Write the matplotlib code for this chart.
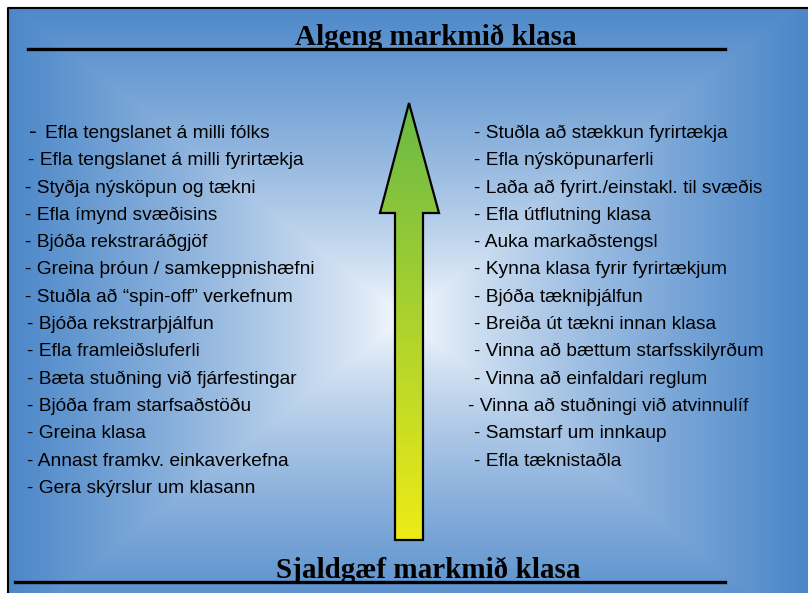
import numpy as np
import matplotlib
matplotlib.use("Agg")
import matplotlib.pyplot as plt
from matplotlib.patches import Polygon

# Texti glærunnar
title_top = "Algeng markmið klasa"
title_bottom = "Sjaldgæf markmið klasa"

left_items = [
    "Efla tengslanet á milli fólks",
    "Efla tengslanet á milli fyrirtækja",
    "Styðja nýsköpun og tækni",
    "Efla ímynd svæðisins",
    "Bjóða rekstraráðgjöf",
    "Greina þróun / samkeppnishæfni",
    "Stuðla að “spin-off” verkefnum",
    "Bjóða rekstrarþjálfun",
    "Efla framleiðsluferli",
    "Bæta stuðning við fjárfestingar",
    "Bjóða fram starfsaðstöðu",
    "Greina klasa",
    "Annast framkv. einkaverkefna",
    "Gera skýrslur um klasann",
]

right_items = [
    "Stuðla að stækkun fyrirtækja",
    "Efla nýsköpunarferli",
    "Laða að fyrirt./einstakl. til svæðis",
    "Efla útflutning klasa",
    "Auka markaðstengsl",
    "Kynna klasa fyrir fyrirtækjum",
    "Bjóða tækniþjálfun",
    "Breiða út tækni innan klasa",
    "Vinna að bættum starfsskilyrðum",
    "Vinna að einfaldari reglum",
    "Vinna að stuðningi við atvinnulíf",
    "Samstarf um innkaup",
    "Efla tæknistaðla",
]

W, H = 808, 593
fig = plt.figure(figsize=(W / 100, H / 100), dpi=100)
ax = fig.add_axes([0, 0, 1, 1])
ax.set_xlim(0, W)
ax.set_ylim(H, 0)
ax.axis("off")

# bakgrunnur: ferhyrndur litastigull, hvítt í miðju, blátt við jaðra
x0, y0 = 8, 8
xs = np.linspace(x0, W, 400)
ys = np.linspace(y0, H, 300)
X, Y = np.meshgrid(xs, ys)
cx, cy = 405, 318
t = np.maximum(np.abs(X - cx) / (W - cx), np.abs(Y - cy) / (cy - y0 + 10))
t = np.clip(t, 0, 1) ** 0.8
blue = np.array([74, 134, 200]) / 255
white = np.array([250, 252, 255]) / 255
bg = white[None, None, :] * (1 - t[..., None]) + blue[None, None, :] * t[..., None]
ax.imshow(bg, extent=(x0, W, H, y0), aspect="auto", zorder=0)
ax.plot([x0, x0, W], [H, y0, y0], color="black", lw=1.5, zorder=1)

# ör með litastigli frá grænu í gult
arrow = [(409, 103), (439, 213), (423, 213), (423, 540),
         (395, 540), (395, 213), (380, 213)]
poly = Polygon(arrow, closed=True, facecolor="none", edgecolor="black",
               lw=1.6, zorder=3)
ax.add_patch(poly)
gy = np.linspace(0, 1, 200)[:, None]
green = np.array([105, 185, 70]) / 255
yellow = np.array([238, 235, 22]) / 255
grad = green[None, None, :] * (1 - gy[..., None]) + yellow[None, None, :] * gy[..., None]
grad = np.repeat(grad, 2, axis=1)
im = ax.imshow(grad, extent=(378, 441, 540, 103), aspect="auto", zorder=2)
im.set_clip_path(poly)

# fyrirsagnir
ax.text(436, 45, title_top, ha="center", va="baseline",
        fontfamily="Liberation Serif", fontweight="bold", fontsize=21)
ax.plot([28, 725], [49, 49], color="black", lw=2.4, zorder=4)
ax.text(428, 578, title_bottom, ha="center", va="baseline",
        fontfamily="Liberation Serif", fontweight="bold", fontsize=21)
ax.plot([15, 725], [582, 582], color="black", lw=2.4, zorder=4)

# listar
fs = 13.8
left_x = [29, 28, 25, 25, 25, 25, 25, 27, 27, 27, 27, 27, 27, 27]
right_x = [474] * 10 + [468] + [474] * 2
row_h = 27.3
for i, item in enumerate(left_items):
    yb = 138 + i * row_h
    if i == 0:
        ax.text(left_x[i], yb, "-", fontsize=17, fontfamily="Liberation Sans",
                va="baseline", zorder=5)
        ax.text(45, yb, item, fontsize=fs, fontfamily="Liberation Sans",
                va="baseline", zorder=5)
    else:
        ax.text(left_x[i], yb, "- " + item, fontsize=fs,
                fontfamily="Liberation Sans", va="baseline", zorder=5)
for i, item in enumerate(right_items):
    yb = 138 + i * row_h
    ax.text(right_x[i], yb, "- " + item, fontsize=fs,
            fontfamily="Liberation Sans", va="baseline", zorder=5)

fig.savefig("out.png", dpi=100)
